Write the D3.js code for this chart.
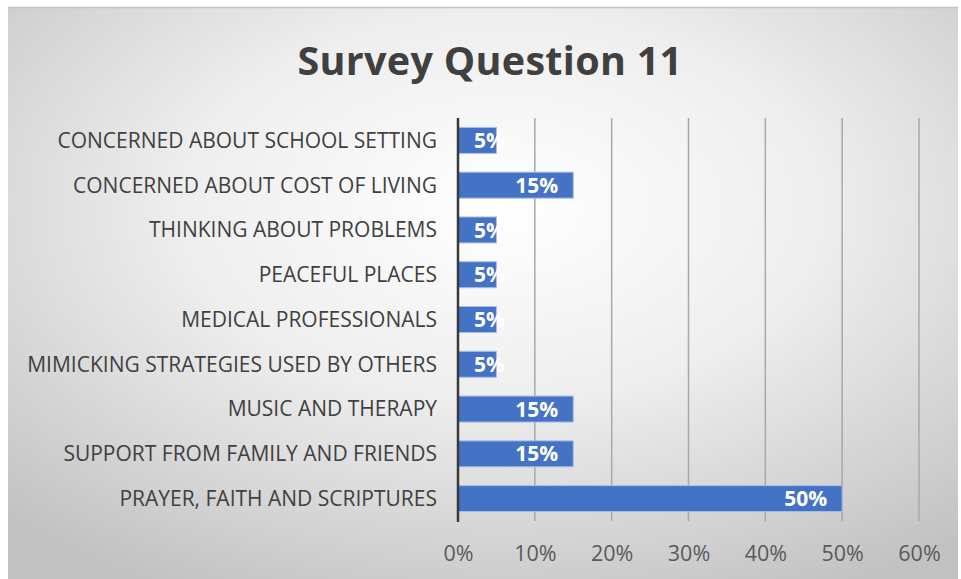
<!DOCTYPE html>
<html>
<head>
<meta charset="utf-8">
<script src="https://cdn.jsdelivr.net/npm/d3@7"></script>
<style>
  html, body { margin: 0; padding: 0; background: #ffffff; }
  svg { display: block; }
</style>
</head>
<body>
<script>
// Survey responses, listed top to bottom as shown on the chart
const categories = [
  "CONCERNED ABOUT SCHOOL SETTING",
  "CONCERNED ABOUT COST OF LIVING",
  "THINKING ABOUT PROBLEMS",
  "PEACEFUL PLACES",
  "MEDICAL PROFESSIONALS",
  "MIMICKING STRATEGIES USED BY OTHERS",
  "MUSIC AND THERAPY",
  "SUPPORT FROM FAMILY AND FRIENDS",
  "PRAYER, FAITH AND SCRIPTURES"
];
const values = [0.05, 0.15, 0.05, 0.05, 0.05, 0.05, 0.15, 0.15, 0.50];
const tickValues = [0, 0.1, 0.2, 0.3, 0.4, 0.5, 0.6];
const title = "Survey Question 11";

const W = 961, H = 579;
const font = "'Open Sans', Lato, sans-serif";

const svg = d3.select("body").append("svg")
  .attr("width", W).attr("height", H);

// Chart area background: soft radial fade from white to grey
const defs = svg.append("defs");
const grad = defs.append("radialGradient")
  .attr("id", "bg").attr("cx", "52%").attr("cy", "35%").attr("r", "75%");
grad.append("stop").attr("offset", "0%").attr("stop-color", "#ffffff");
grad.append("stop").attr("offset", "45%").attr("stop-color", "#eeeeee");
grad.append("stop").attr("offset", "100%").attr("stop-color", "#c2c2c2");

const box = { x: 8, y: 7, w: 950, h: 572 };
svg.append("rect")
  .attr("x", box.x).attr("y", box.y).attr("width", box.w).attr("height", box.h)
  .attr("fill", "url(#bg)");
svg.append("line")
  .attr("x1", box.x).attr("x2", box.x + box.w)
  .attr("y1", box.y + 0.5).attr("y2", box.y + 0.5)
  .attr("stroke", "#c2c2c2").attr("stroke-width", 1.5);

// Title
svg.append("text")
  .attr("x", 490).attr("y", 75)
  .attr("text-anchor", "middle")
  .attr("font-family", font).attr("font-weight", "bold")
  .attr("font-size", 39.5).attr("fill", "#404040")
  .attr("letter-spacing", 0.3)
  .text(title);

// Plot area
const plot = { left: 458, right: 919, top: 118, bottom: 521 };

const x = d3.scaleLinear().domain([0, 0.6]).range([plot.left, plot.right]);
const y = d3.scaleBand().domain(categories)
  .range([plot.top, plot.bottom]).paddingInner(0.42).paddingOuter(0.21);

// Vertical gridlines
svg.append("g").selectAll("line")
  .data(tickValues.slice(1))
  .join("line")
  .attr("x1", d => x(d)).attr("x2", d => x(d))
  .attr("y1", plot.top).attr("y2", plot.bottom)
  .attr("stroke", "#a8a8a8").attr("stroke-width", 1.5);

// Bars
svg.append("g").selectAll("rect")
  .data(values)
  .join("rect")
  .attr("x", x(0))
  .attr("y", (d, i) => y(categories[i]))
  .attr("width", d => x(d) - x(0))
  .attr("height", y.bandwidth())
  .attr("fill", "#4472c4")
  .attr("stroke", "#a9bfe6").attr("stroke-width", 1);

// Category axis line
svg.append("line")
  .attr("x1", plot.left).attr("x2", plot.left)
  .attr("y1", plot.top).attr("y2", plot.bottom + 1)
  .attr("stroke", "#3a3a3a").attr("stroke-width", 2.5);

// Value axis labels
const xAxis = d3.axisBottom(x).tickValues(tickValues)
  .tickFormat(d3.format(".0%")).tickSize(0).tickPadding(0);
const gx = svg.append("g").attr("transform", `translate(0,${plot.bottom + 39.5})`).call(xAxis);
gx.select(".domain").remove();
gx.selectAll("text")
  .attr("font-family", font).attr("font-size", 21.5).attr("fill", "#595959")
  .attr("dy", 0);

// Category labels
const yAxis = d3.axisLeft(y).tickSize(0).tickPadding(0);
const gy = svg.append("g").attr("transform", `translate(${plot.left - 21},0)`).call(yAxis);
gy.select(".domain").remove();
gy.selectAll("text")
  .attr("font-family", font).attr("font-size", 21).attr("fill", "#404040")
  .attr("letter-spacing", 0)
  .attr("dy", "0.35em");

// Value labels inside bar ends (pushed right when the bar is too short)
const labels = svg.append("g").selectAll("text")
  .data(values)
  .join("text")
  .attr("y", (d, i) => y(categories[i]) + y.bandwidth() / 2)
  .attr("dy", "0.36em")
  .attr("text-anchor", "end")
  .attr("font-family", font).attr("font-weight", "bold")
  .attr("font-size", 21).attr("fill", "#ffffff")
  .text(d => d3.format(".0%")(d));
labels.attr("x", function (d) {
  const w = this.getComputedTextLength();
  return Math.max(x(d) - 15, x(0) + 16 + w);
});
</script>
</body>
</html>
